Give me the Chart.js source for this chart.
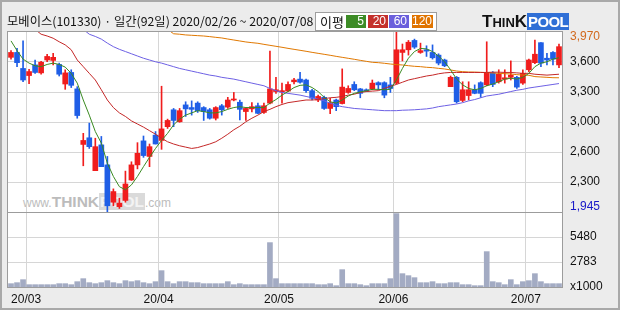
<!DOCTYPE html>
<html>
<head>
<meta charset="utf-8">
<script src="https://cdn.jsdelivr.net/npm/chart.js@4.4.1/dist/chart.umd.min.js"></script>
<style>
  html, body { margin: 0; padding: 0; }
  body { width: 620px; height: 310px; overflow: hidden; }
  #wrap { position: relative; width: 620px; height: 310px; background: #ececec; }
  #frame { position: absolute; left: 0; top: 0; width: 620px; height: 310px; box-sizing: border-box; border: 2px solid #a9a9a9; pointer-events: none; }
  #panel { position: absolute; left: 8px; top: 32px; width: 554px; height: 255px; background: #fff; }
  #mark { position: absolute; left: 23px; top: 193px; white-space: nowrap; color: #bcbcbc; font-family: "Liberation Sans", sans-serif; line-height: 18px; }
  #mark .sm { font-size: 12px; }
  #mark .big { font-size: 15.5px; font-weight: bold; }
  #mark .pool { font-size: 15.5px; font-weight: bold; color: #f3f3f3; background: #dadada; padding: 0 1px; }
  #chart { position: absolute; left: 0; top: 0; }
  #title { position: absolute; left: 7px; top: 13px; font: 12.3px/16px "Noto Sans CJK KR", sans-serif; color: #111; white-space: nowrap; }
  #legend { position: absolute; left: 315px; top: 12px; width: 122px; height: 19px; box-sizing: border-box; background: #fff; border: 1px solid #9e9e9e; }
  #legend .lbl { position: absolute; left: 4px; top: 0; font: 13px/17px "Noto Sans CJK KR", sans-serif; color: #111; }
  #legend .box { position: absolute; top: 2px; height: 13px; color: #fff; font: 12px/13px "Liberation Sans", sans-serif; text-align: right; padding-right: 2px; box-sizing: border-box; }
  #logo { position: absolute; left: 482px; top: 12px; white-space: nowrap; font-family: "Liberation Sans", sans-serif; font-weight: bold; }
  #logo .t { color: #111; font-size: 17px; }
  #logo .s { color: #111; font-size: 13px; }
  #logo .p { color: #fff; font-size: 15px; letter-spacing: -0.6px; background: #2f6fd6; padding: 0 1px; }
</style>
</head>
<body>
<div id="wrap">
  <div id="panel"></div>
  <div id="mark"><span class="sm">www.</span><span class="big">THINK</span><span class="pool">POOL</span><span class="sm">.com</span></div>
  <canvas id="chart" width="620" height="310"></canvas>
  <div id="title">모베이스(101330) · 일간(92일) 2020/02/26 ~ 2020/07/08</div>
  <div id="legend">
    <span class="lbl">이평</span>
    <span class="box" style="left:30px;width:20px;background:#3d8c26">5</span>
    <span class="box" style="left:52px;width:20px;background:#c4302b">20</span>
    <span class="box" style="left:73px;width:20px;background:#6b5fdc">60</span>
    <span class="box" style="left:96px;width:21px;background:#e07400">120</span>
  </div>
  <div id="logo"><span class="t">T</span><span class="s">HIN</span><span class="t">K</span><span class="p">POOL</span></div>
  <div id="frame"></div>
</div>
<script>
// trading days 2020/02/26 ~ 2020/07/08
const dates = [
  '02/26','02/27','02/28',
  '03/02','03/03','03/04','03/05','03/06','03/09','03/10','03/11','03/12','03/13',
  '03/16','03/17','03/18','03/19','03/20','03/23','03/24','03/25','03/26','03/27','03/30','03/31',
  '04/01','04/02','04/03','04/06','04/07','04/08','04/09','04/10','04/13','04/14','04/16','04/17',
  '04/20','04/21','04/22','04/23','04/24','04/27','04/28','04/29',
  '05/04','05/06','05/07','05/08','05/11','05/12','05/13','05/14','05/15',
  '05/18','05/19','05/20','05/21','05/22','05/25','05/26','05/27','05/28','05/29',
  '06/01','06/02','06/03','06/04','06/05','06/08','06/09','06/10','06/11','06/12',
  '06/15','06/16','06/17','06/18','06/19','06/22','06/23','06/24','06/25','06/26','06/29','06/30',
  '07/01','07/02','07/03','07/06','07/07','07/08'
];

const open = [
  3685,3740,3560,3480,3600,3510,3655,3650,3605,3385,
  3515,3330,2705,2780,2410,2700,2475,2055,2005,2075,
  2305,2475,2745,2570,2810,2750,2905,3095,2960,3150,
  3120,3170,3120,3095,3000,3140,3125,3205,3180,3075,
  3105,3140,3065,3170,3300,3295,3305,3410,3440,3430,
  3310,3205,3235,3110,3205,3165,3290,3380,3330,3320,
  3330,3400,3400,3375,3395,3740,3770,3875,3740,3770,
  3740,3710,3655,3355,3460,3200,3255,3320,3400,3375,
  3510,3410,3440,3460,3460,3395,3545,3625,3850,3675,
  3740,3600
];
const high = [
  3760,3785,3870,3550,3655,3640,3720,3730,3620,3545,
  3545,3355,2830,2945,2775,2795,2570,2205,2100,2405,
  2510,2725,2800,2710,2850,3360,2990,3110,3110,3185,
  3195,3185,3130,3110,3130,3155,3235,3290,3205,3120,
  3175,3170,3170,3755,3460,3395,3410,3450,3515,3440,
  3325,3260,3250,3225,3215,3555,3365,3410,3335,3330,
  3430,3410,3410,3460,3970,3835,3875,3890,3845,3815,
  3825,3725,3665,3475,3470,3410,3410,3375,3410,3860,
  3525,3545,3545,3645,3470,3545,3665,3880,3850,3730,
  3750,3835
];
const low = [
  3665,3580,3410,3390,3505,3495,3635,3600,3475,3325,
  3345,3000,2465,2660,2410,2455,1945,2015,1985,2055,
  2300,2430,2560,2455,2710,2650,2885,2905,2955,3020,
  3035,3065,2975,2990,2980,3035,3110,3195,2980,2975,
  3070,3050,3055,3160,3280,3170,3300,3385,3395,3290,
  3205,3185,3100,3050,3085,3160,3280,3310,3230,3300,
  3320,3320,3230,3290,3385,3645,3710,3785,3730,3695,
  3665,3600,3580,3355,3170,3185,3205,3275,3235,3365,
  3355,3395,3395,3430,3335,3380,3525,3615,3580,3600,
  3600,3570
];
const close = [
  3740,3625,3430,3525,3515,3630,3695,3685,3495,3510,
  3370,3030,2750,2680,2680,2455,2015,2175,2045,2260,
  2475,2605,2580,2680,2710,2880,2975,2975,3085,3105,
  3100,3085,3075,3000,3120,3095,3205,3215,3100,3110,
  3130,3055,3140,3330,3320,3310,3380,3430,3405,3310,
  3225,3245,3110,3175,3130,3350,3335,3320,3280,3305,
  3395,3375,3260,3335,3770,3770,3855,3800,3760,3755,
  3680,3620,3590,3460,3185,3320,3320,3280,3280,3515,
  3380,3495,3455,3485,3350,3505,3655,3720,3620,3655,
  3665,3805
];
// volume, x1000 shares
const volume = [
  446,554,878,338,338,338,338,338,446,446,
  338,662,986,554,446,554,770,554,446,770,
  662,770,554,446,662,1850,662,446,662,662,
  554,554,446,446,446,446,662,338,446,338,
  338,338,338,4874,986,446,446,446,446,446,
  446,338,338,446,230,1958,446,446,338,230,
  446,446,446,986,8006,1526,1310,1094,554,554,
  662,446,446,554,554,338,338,230,230,3902,
  662,554,338,878,338,662,770,1526,662,446,
  446,446
];

const ma5 = [
  3870,3760,3665,3620,3590,3580,3605,3620,3605,3575,
  3505,3395,3205,3035,2850,2720,2495,2345,2230,2195,
  2250,2345,2455,2560,2660,2750,2830,2925,2990,3035,
  3060,3085,3075,3060,3060,3075,3100,3120,3130,3120,
  3120,3120,3120,3170,3210,3260,3300,3345,3370,3375,
  3345,3300,3235,3185,3170,3205,3250,3280,3295,3310,
  3325,3325,3320,3325,3430,3560,3675,3750,3785,3780,
  3750,3700,3635,3545,3440,3375,3335,3320,3335,3365,
  3385,3410,3440,3450,3440,3460,3505,3580,3620,3635,
  3665,3680
];
const ma20 = [
  null,null,null,null,4000,3945,3925,3900,3860,3825,
  3770,3655,3580,3505,3430,3320,3205,3120,3060,3020,
  2970,2935,2900,2860,2820,2775,2735,2710,2690,2675,
  2660,2670,2690,2710,2735,2775,2820,2870,2910,2960,
  3000,3035,3075,3100,3130,3155,3175,3185,3195,3205,
  3205,3210,3220,3230,3235,3245,3260,3270,3290,3300,
  3305,3310,3335,3360,3380,3405,3430,3445,3460,3475,
  3485,3500,3510,3515,3515,3515,3515,3515,3515,3515,
  3518,3518,3515,3515,3510,3505,3505,3495,3490,3485,
  3490,3495
];
const ma60 = [
  null,null,null,null,null,null,null,null,null,null,
  null,null,4000,3945,3920,3890,3845,3805,3775,3750,
  3725,3700,3675,3655,3635,3620,3600,3580,3560,3545,
  3530,3515,3500,3485,3475,3460,3450,3440,3425,3410,
  3395,3380,3365,3335,3310,3290,3280,3270,3260,3245,
  3230,3215,3195,3170,3145,3130,3120,3110,3105,3100,
  3095,3090,3085,3085,3085,3090,3092,3095,3100,3105,
  3115,3130,3140,3150,3160,3175,3195,3210,3230,3250,
  3260,3270,3285,3300,3315,3325,3340,3350,3360,3370,
  3380,3390
];
const ma120 = [
  null,null,null,null,null,null,null,null,null,null,
  null,null,null,null,null,null,null,null,null,null,
  null,null,null,null,null,null,4000,3950,3945,3937,
  3933,3929,3925,3918,3910,3903,3891,3880,3869,3858,
  3850,3843,3831,3820,3809,3798,3786,3775,3764,3753,
  3741,3730,3719,3708,3696,3685,3674,3663,3651,3640,
  3629,3625,3618,3610,3603,3599,3591,3584,3580,3573,
  3569,3561,3554,3543,3531,3524,3520,3519,3516,3513,
  3509,3505,3501,3498,3490,3486,3483,3468,3464,3460,
  3456,3455
];

const priceMin = 1945, priceMax = 3970;
const priceTicks = [1945, 2282.5, 2620, 2957.5, 3295, 3632.5, 3970];
const priceTickLabels = ['1,945', '2,300', '2,600', '3,000', '3,300', '3,600', '3,970'];
const volMin = 86, volMax = 8177;
const volTicks = [86, 2783, 5480];
const volTickLabels = ['x1000', '2783', '5480'];
const monthLabels = { '03': '20/03', '04': '20/04', '05': '20/05', '06': '20/06', '07': '20/07' };

const UP = '#f01d1d', DOWN = '#1f5ee6', GRID = '#d6d6d6', NONE = 'rgba(0,0,0,0)';
const numFont = { family: 'Liberation Sans', size: 12 };

const monthStart = new Set();
dates.forEach((d, i) => { if (i > 0 && d.slice(0, 2) !== dates[i - 1].slice(0, 2)) monthStart.add(i); });

const candleColor = close.map((c, i) => c >= open[i] ? UP : DOWN);

// frame round the price and volume panels
const panelFrame = {
  id: 'panelFrame',
  afterDraw(chart) {
    const { ctx, chartArea: a } = chart;
    const sep = Math.round(chart.scales.y.bottom) + 0.5;
    ctx.save();
    ctx.strokeStyle = '#9c9c9c';
    ctx.lineWidth = 1;
    ctx.strokeRect(a.left - 0.5, a.top - 0.5, a.right - a.left + 1, a.bottom - a.top + 1);
    ctx.beginPath();
    ctx.moveTo(a.left, sep);
    ctx.lineTo(a.right, sep);
    ctx.stroke();
    ctx.restore();
  }
};

function maLine(data, color) {
  return { type: 'line', data: data, borderColor: color, borderWidth: 1, pointRadius: 0, tension: 0, yAxisID: 'y' };
}

new Chart(document.getElementById('chart').getContext('2d'), {
  data: {
    labels: dates,
    datasets: [
      maLine(ma5, '#3a8a22'),
      maLine(ma20, '#c42828'),
      maLine(ma60, '#6d60e4'),
      maLine(ma120, '#e07800'),
      {
        type: 'bar', yAxisID: 'y', grouped: false, barThickness: 5, minBarLength: 1,
        data: open.map((o, i) => [o, close[i]]),
        backgroundColor: candleColor
      },
      {
        type: 'bar', yAxisID: 'y', grouped: false, barThickness: 1,
        data: low.map((l, i) => [l, high[i]]),
        backgroundColor: candleColor
      },
      {
        type: 'bar', yAxisID: 'yv', grouped: false, barThickness: 5,
        data: volume,
        backgroundColor: '#a3abc3'
      }
    ]
  },
  options: {
    responsive: false,
    animation: false,
    events: [],
    layout: { padding: { left: 8, top: 32, right: 0, bottom: 0 } },
    plugins: { legend: { display: false }, tooltip: { enabled: false } },
    scales: {
      x: {
        type: 'category',
        offset: true,
        grid: {
          offset: true,
          drawTicks: false,
          color: c => monthStart.has(c.index) ? GRID : NONE
        },
        border: { display: false },
        ticks: {
          autoSkip: false,
          maxRotation: 0,
          padding: 5,
          labelOffset: -3,
          color: '#111',
          font: numFont,
          callback: (v, i) => monthStart.has(i) ? monthLabels[dates[i].slice(0, 2)] : ''
        },
        afterFit: s => { s.height = 23; }
      },
      y: {
        position: 'right',
        stack: 'panels',
        stackWeight: 180,
        min: priceMin,
        max: priceMax,
        afterBuildTicks: s => { s.ticks = priceTicks.map(v => ({ value: v })); },
        grid: {
          drawTicks: false,
          color: c => (c.index === 0 || c.index === priceTicks.length - 1) ? NONE : GRID
        },
        border: { display: false },
        ticks: {
          autoSkip: false,
          padding: 8,
          font: { family: 'Liberation Sans', size: 12, lineHeight: 0.84 },
          color: c => c.index === priceTicks.length - 1 ? '#d2691e' : (c.index === 0 ? '#1818c8' : '#111'),
          callback: (v, i) => {
            const t = priceTickLabels[i];
            if (i === priceTicks.length - 1) return ['', t];
            if (i === 0) return [t, ''];
            return t;
          }
        },
        afterFit: s => { s.width = 58; }
      },
      yv: {
        position: 'right',
        stack: 'panels',
        stackWeight: 75,
        min: volMin,
        max: volMax,
        afterBuildTicks: s => { s.ticks = volTicks.map(v => ({ value: v })); },
        grid: {
          drawTicks: false,
          color: c => c.index === 0 ? NONE : GRID
        },
        border: { display: false },
        ticks: {
          autoSkip: false,
          padding: 8,
          font: numFont,
          color: '#111',
          callback: (v, i) => volTickLabels[i]
        },
        afterFit: s => { s.width = 58; }
      }
    }
  },
  plugins: [panelFrame]
});
</script>
</body>
</html>
